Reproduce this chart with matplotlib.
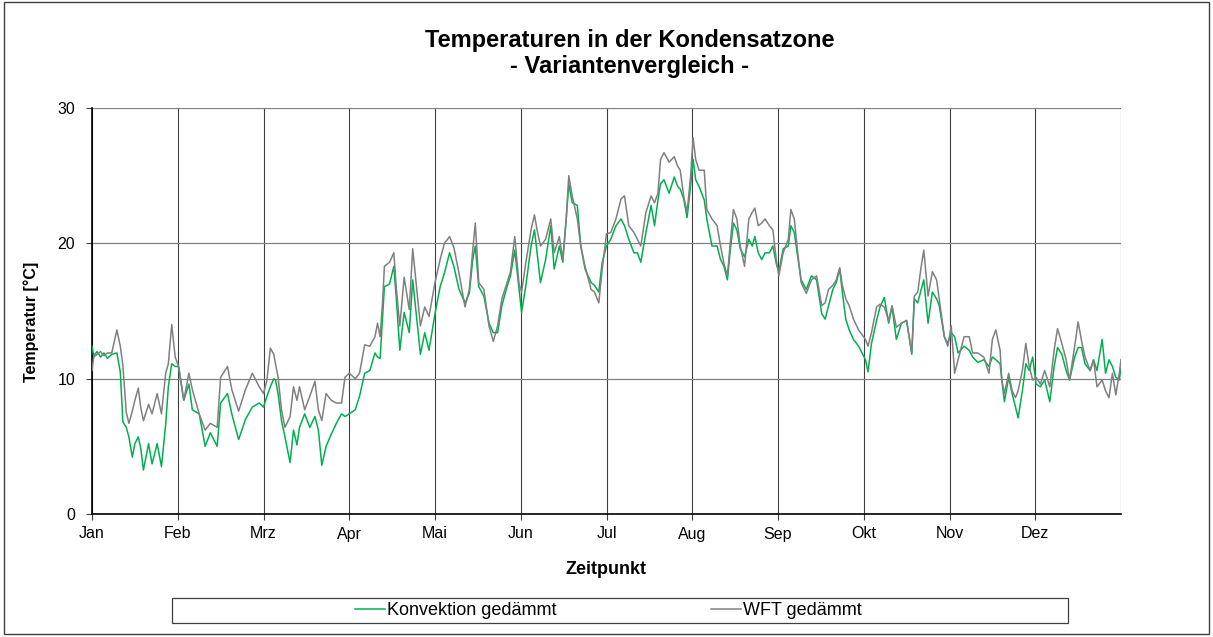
import matplotlib
matplotlib.use("Agg")
import matplotlib.pyplot as plt
from matplotlib.patches import Rectangle

plt.rcParams['font.family'] = ['Liberation Sans', 'DejaVu Sans']

# ---------------- data (time in months since 1 Jan) ----------------
monate = ["Jan", "Feb", "Mrz", "Apr", "Mai", "Jun", "Jul", "Aug", "Sep", "Okt", "Nov", "Dez"]

zeit = [
    0.00, 0.02, 0.06, 0.10, 0.14, 0.18, 0.23, 0.29, 0.33, 0.36, 0.40, 0.43, 0.47, 0.50, 0.54, 0.57, 0.60, 0.66, 0.70, 0.76, 0.81, 0.86, 0.89, 0.93, 0.97,
    1.01, 1.07, 1.13, 1.17, 1.25, 1.32, 1.38, 1.46, 1.50, 1.58, 1.63, 1.71, 1.79, 1.87, 1.95,
    2.00, 2.04, 2.08, 2.12, 2.14, 2.17, 2.21, 2.25, 2.31, 2.35, 2.39, 2.42, 2.48, 2.54, 2.60, 2.64, 2.68, 2.73, 2.79, 2.85, 2.91, 2.95,
    3.00, 3.07, 3.12, 3.18, 3.24, 3.30, 3.33, 3.36, 3.39, 3.41, 3.47, 3.52, 3.55, 3.59, 3.64, 3.70, 3.74, 3.80, 3.83, 3.88, 3.93,
    4.00, 4.06, 4.11, 4.17, 4.22, 4.28, 4.35, 4.40, 4.44, 4.47, 4.51, 4.57, 4.63, 4.68, 4.73, 4.78, 4.84, 4.88, 4.93, 4.98,
    5.01, 5.06, 5.12, 5.16, 5.19, 5.23, 5.29, 5.35, 5.39, 5.45, 5.49, 5.53, 5.56, 5.60, 5.66, 5.70, 5.75, 5.82, 5.86, 5.91, 5.95,
    6.00, 6.05, 6.11, 6.17, 6.21, 6.26, 6.32, 6.36, 6.40, 6.46, 6.52, 6.56, 6.60, 6.63, 6.67, 6.73, 6.79, 6.83, 6.86, 6.90, 6.94, 6.98,
    7.01, 7.04, 7.08, 7.14, 7.17, 7.23, 7.29, 7.33, 7.37, 7.41, 7.44, 7.48, 7.52, 7.56, 7.61, 7.66, 7.70, 7.73, 7.77, 7.81, 7.85, 7.90, 7.94, 7.98,
    8.01, 8.06, 8.12, 8.15, 8.19, 8.23, 8.27, 8.33, 8.39, 8.45, 8.51, 8.55, 8.59, 8.64, 8.68, 8.72, 8.75, 8.79, 8.83, 8.88, 8.94,
    9.02, 9.05, 9.09, 9.15, 9.19, 9.24, 9.29, 9.33, 9.38, 9.44, 9.50, 9.56, 9.59, 9.63, 9.67, 9.70, 9.75, 9.80, 9.85, 9.88, 9.94, 9.98,
    10.02, 10.06, 10.10, 10.17, 10.23, 10.27, 10.33, 10.40, 10.46, 10.50, 10.54, 10.59, 10.61, 10.64, 10.69, 10.73, 10.77, 10.80, 10.85, 10.89, 10.93, 10.97,
    11.01, 11.06, 11.11, 11.17, 11.22, 11.26, 11.31, 11.36, 11.40, 11.46, 11.50, 11.54, 11.58, 11.64, 11.68, 11.72, 11.78, 11.82, 11.86, 11.90, 11.94, 11.98, 12.00,
]

konvektion_gedaemmt = [
    12.4, 11.7, 12.0, 11.6, 11.9, 11.5, 11.8, 11.9, 10.5, 6.8, 6.4, 5.7, 4.2, 5.2, 5.7, 4.8, 3.25, 5.2, 3.7, 5.2, 3.5, 6.7, 9.4, 11.1, 10.9,
    10.9, 8.4, 9.6, 7.7, 7.4, 5.0, 6.0, 5.0, 8.2, 8.9, 7.4, 5.5, 7.0, 7.9, 8.2,
    7.9, 8.7, 9.4, 10.0, 9.9, 8.9, 6.9, 5.7, 3.8, 6.2, 5.1, 6.4, 7.4, 6.4, 7.2, 6.2, 3.6, 5.0, 5.9, 6.7, 7.4, 7.2,
    7.4, 7.7, 8.7, 10.4, 10.6, 11.9, 11.6, 11.5, 14.6, 16.8, 17.0, 18.3, 15.8, 12.1, 14.9, 13.4, 17.3, 13.6, 11.8, 13.4, 12.1,
    14.8, 16.8, 17.8, 19.3, 18.3, 16.6, 15.6, 16.3, 18.8, 19.8, 16.8, 16.1, 14.1, 13.4, 13.4, 15.4, 16.8, 17.6, 19.5, 16.6,
    14.9, 16.9, 19.8, 21.0, 19.3, 17.1, 18.8, 21.3, 18.1, 19.8, 18.6, 21.8, 24.4, 23.0, 22.8, 19.8, 18.1, 17.1, 16.9, 16.4, 18.6,
    19.8, 20.3, 21.3, 21.8, 21.3, 20.3, 19.3, 19.3, 18.6, 20.8, 22.8, 21.3, 23.2, 24.4, 24.7, 23.7, 24.9, 24.2, 24.0, 23.3, 21.9, 24.2,
    26.2, 24.7, 24.2, 23.2, 21.8, 19.8, 19.8, 18.8, 18.3, 17.3, 19.3, 21.5, 21.0, 19.6, 19.0, 20.3, 19.8, 20.5, 19.3, 18.8, 19.3, 19.3, 19.8, 18.5,
    17.9, 19.6, 19.8, 21.3, 20.8, 19.0, 17.3, 16.6, 17.6, 17.3, 14.8, 14.4, 15.4, 16.6, 17.1, 18.1, 16.4, 14.4, 13.6, 12.9, 12.4,
    11.4, 10.5, 12.6, 14.3, 15.3, 16.0, 14.1, 15.3, 12.9, 14.1, 14.3, 11.8, 15.9, 15.6, 16.6, 17.3, 14.1, 16.4, 15.9, 15.4, 13.1, 12.6,
    13.4, 13.1, 11.9, 12.4, 12.1, 11.6, 11.2, 11.4, 10.9, 11.6, 11.4, 11.1, 9.9, 8.3, 10.1, 8.9, 7.9, 7.1, 9.1, 11.1, 10.6, 11.6,
    9.6, 9.4, 9.9, 8.3, 10.9, 12.3, 11.8, 10.6, 9.9, 11.6, 12.3, 12.3, 11.1, 10.6, 11.4, 10.6, 12.9, 10.4, 11.4, 10.9, 10.1, 9.9, 10.8,
]

wft_gedaemmt = [
    10.6, 11.6, 11.8, 12.0, 11.7, 11.9, 11.9, 13.6, 12.4, 11.0, 7.5, 6.7, 7.6, 8.4, 9.3, 7.8, 6.9, 8.1, 7.4, 8.9, 7.4, 10.4, 11.1, 14.0, 11.6,
    10.9, 8.4, 10.4, 9.2, 7.4, 6.2, 6.7, 6.4, 10.1, 10.9, 9.2, 7.6, 9.2, 10.4, 9.4,
    8.9, 9.9, 12.25, 11.8, 11.1, 10.1, 7.7, 6.4, 7.2, 9.4, 8.4, 9.4, 7.7, 8.7, 9.8, 7.7, 6.9, 8.9, 8.4, 8.2, 8.2, 10.1,
    10.4, 10.0, 10.4, 12.5, 12.4, 13.1, 14.1, 13.1, 15.8, 18.3, 18.6, 19.3, 16.6, 13.9, 17.5, 15.1, 19.6, 15.8, 13.9, 15.3, 14.6,
    17.1, 18.8, 20.0, 20.5, 19.7, 17.8, 15.3, 16.6, 19.5, 21.5, 17.1, 16.6, 13.9, 12.75, 13.9, 15.9, 17.1, 17.9, 20.5, 17.0,
    16.4, 18.6, 21.0, 22.1, 21.0, 19.8, 20.3, 21.8, 19.3, 20.5, 18.8, 21.8, 25.0, 23.5, 21.8, 19.8, 18.3, 16.6, 16.4, 15.6, 18.1,
    20.7, 20.8, 21.8, 23.3, 23.5, 21.3, 20.8, 20.3, 19.8, 22.3, 23.5, 23.0, 23.7, 26.2, 26.7, 26.0, 26.4, 25.7, 25.4, 23.5, 22.3, 24.9,
    27.8, 26.2, 25.4, 25.4, 22.5, 21.8, 21.3, 19.8, 18.5, 17.6, 19.8, 22.5, 21.8, 19.8, 18.3, 21.8, 22.3, 22.6, 21.3, 21.5, 21.8, 21.3, 21.0, 18.8,
    17.6, 19.3, 20.3, 22.5, 21.8, 19.3, 17.1, 16.3, 17.3, 17.6, 15.4, 15.6, 16.6, 16.9, 17.3, 18.2, 16.9, 15.9, 15.4, 14.4, 13.6,
    12.9, 12.4, 13.4, 15.3, 15.5, 15.3, 14.3, 15.4, 13.8, 14.1, 14.3, 11.9, 16.1, 16.4, 18.3, 19.5, 16.1, 17.9, 17.3, 15.9, 13.1, 12.4,
    13.9, 10.4, 11.4, 13.1, 13.1, 11.9, 11.9, 11.6, 10.4, 12.9, 13.6, 12.1, 9.9, 8.9, 10.4, 9.1, 8.6, 9.1, 10.6, 12.6, 10.9, 9.9,
    10.1, 9.6, 10.6, 9.4, 12.1, 13.7, 12.6, 11.4, 9.9, 12.4, 14.2, 12.8, 11.6, 10.6, 11.4, 9.4, 9.9, 9.1, 8.6, 10.4, 8.8, 10.4, 11.4,
]

y_ticks = [0, 10, 20, 30]

# ---------------- figure ----------------
W, H = 1213, 637
fig = plt.figure(figsize=(W / 100, H / 100), dpi=100)
fig.patch.set_facecolor("white")

# outer chart border
fig.add_artist(Rectangle((4 / W, 1 - 634 / H), 1205 / W, 632 / H, transform=fig.transFigure,
                         fill=False, edgecolor="#404040", linewidth=1.0))

ax = fig.add_axes([92 / W, 1 - 514 / H, 1029 / W, 406 / H])
ax.set_xlim(0, 12)
ax.set_ylim(0, 30)

green = "#00B050"
grey = "#808080"

for m in range(0, 13):
    ax.axvline(m, color="#404040", linewidth=0.8, zorder=1)
for v in y_ticks[1:]:
    ax.axhline(v, color="#808080", linewidth=0.9, zorder=1)

l1, = ax.plot(zeit, konvektion_gedaemmt, color=green, linewidth=1.1, zorder=3)
l2, = ax.plot(zeit, wft_gedaemmt, color=grey, linewidth=1.1, zorder=4)

ax.set_xticks(range(12))
ax.set_xticklabels(monate)
ax.set_yticks(y_ticks)
ax.tick_params(axis="both", direction="out", length=4, width=0.8, color="#404040",
               labelsize=11.5, labelcolor="black")
ax.tick_params(axis="y", pad=8)
ax.tick_params(axis="x", pad=5)
for s in ["top", "right"]:
    ax.spines[s].set_visible(False)
for s in ["left", "bottom"]:
    ax.spines[s].set_color("black")
    ax.spines[s].set_linewidth(1.2)

# titles
fig.text(630 / W, 1 - 47.5 / H, "Temperaturen in der Kondensatzone", ha="center", va="baseline",
         fontsize=17, fontweight="bold")
fig.text(630 / W, 1 - 73.5 / H, "- Variantenvergleich -", ha="center", va="baseline",
         fontsize=17, fontweight="bold")
fig.text(606 / W, 1 - 569 / H, "Zeitpunkt", ha="center", va="center", fontsize=13, fontweight="bold")
fig.text(31 / W, 1 - 322 / H, "Temperatur [°C]", ha="center", va="center", rotation=90,
         fontsize=11.5, fontweight="bold")

# legend
fig.add_artist(Rectangle((172 / W, 1 - 623 / H), 896 / W, 25 / H, transform=fig.transFigure,
                         fill=False, edgecolor="#404040", linewidth=0.9))
leg = fig.legend([l1, l2], ["Konvektion gedämmt", "WFT gedämmt"], loc="center left",
                 bbox_to_anchor=(355 / W, 1 - 610.5 / H), ncol=2, frameon=False,
                 fontsize=13, handlelength=1.65, handletextpad=0.1, columnspacing=8.6,
                 borderpad=0.0, borderaxespad=0.0)

fig.savefig("out.png", dpi=100, facecolor="white")
